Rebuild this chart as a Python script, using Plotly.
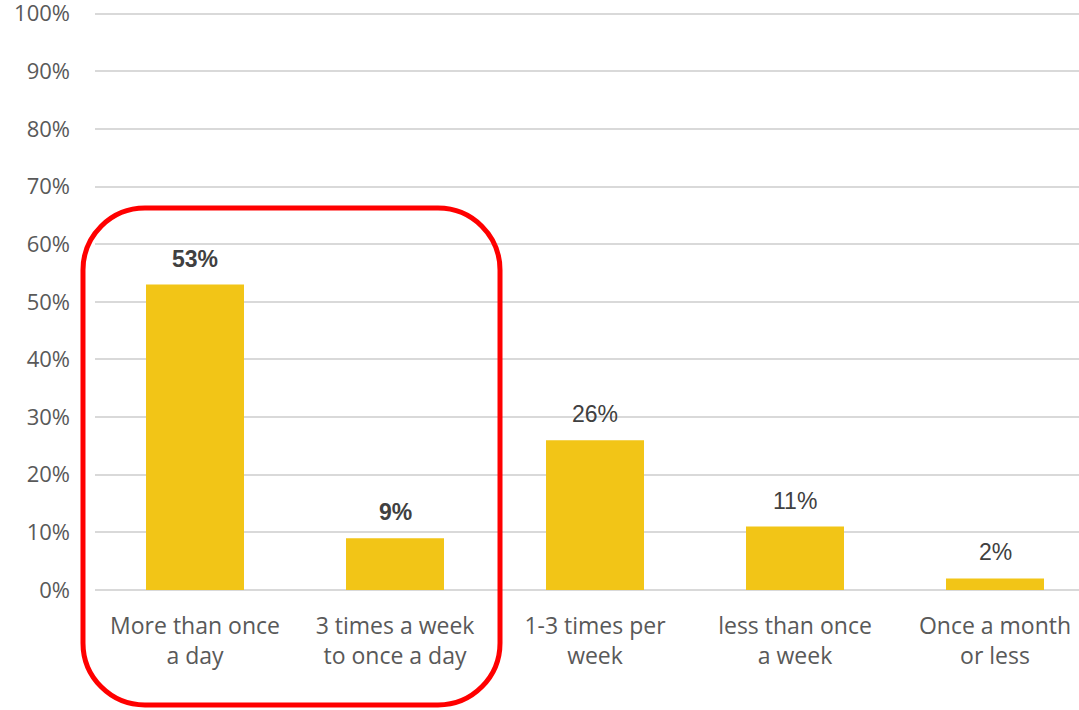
import plotly.graph_objects as go

# Survey responses: how often respondents do the activity
categories = [
    "More than once<br>a day",
    "3 times a week<br>to once a day",
    "1-3 times per<br>week",
    "less than once<br>a week",
    "Once a month<br>or less",
]
shares = [53, 9, 26, 11, 2]
highlighted = [True, True, False, False, False]
y_ticks = list(range(0, 101, 10))

BAR_COLOR = "#F2C517"
GRID_COLOR = "#D9D9D9"
AXIS_TEXT = "#595959"
LABEL_TEXT = "#404040"

W, H = 1079, 710
M_L, M_R, M_T, M_B = 95, 0, 12, 120

fig = go.Figure(
    go.Bar(
        x=list(range(len(categories))),
        y=shares,
        marker=dict(color=BAR_COLOR, line=dict(width=0)),
        width=0.49,
        hoverinfo="skip",
    )
)

# value labels above the bars (bold for the highlighted group)
for i, (v, hl) in enumerate(zip(shares, highlighted)):
    fig.add_annotation(
        x=i, y=v, xref="x", yref="y",
        text=f"<b>{v}%</b>" if hl else f"{v}%",
        showarrow=False, yanchor="bottom", yshift=11,
        font=dict(family="Liberation Sans, Arial", size=23, color=LABEL_TEXT),
    )

# rounded red frame around the first two categories
plot_w = W - M_L - M_R
plot_h = H - M_T - M_B
y_top = 100.3


def px_to_paper(px, py):
    return (px - M_L) / plot_w, (H - M_B - py) / plot_h


def rounded_rect(x0, y0, x1, y1, r):
    k = 0.5523 * r

    def P(px, py):
        a, b = px_to_paper(px, py)
        return f"{a:.5f},{b:.5f}"

    return (
        f"M {P(x0 + r, y0)} L {P(x1 - r, y0)} "
        f"C {P(x1 - r + k, y0)} {P(x1, y0 + r - k)} {P(x1, y0 + r)} "
        f"L {P(x1, y1 - r)} "
        f"C {P(x1, y1 - r + k)} {P(x1 - r + k, y1)} {P(x1 - r, y1)} "
        f"L {P(x0 + r, y1)} "
        f"C {P(x0 + r - k, y1)} {P(x0, y1 - r + k)} {P(x0, y1 - r)} "
        f"L {P(x0, y0 + r)} "
        f"C {P(x0, y0 + r - k)} {P(x0 + r - k, y0)} {P(x0 + r, y0)} Z"
    )


fig.add_shape(
    type="path",
    xref="paper", yref="paper",
    path=rounded_rect(83, 208, 500, 705, 62),
    line=dict(color="#FF0000", width=5),
    fillcolor="rgba(0,0,0,0)",
    layer="above",
)

fig.update_layout(
    width=W, height=H,
    margin=dict(l=M_L, r=M_R, t=M_T, b=M_B, autoexpand=False),
    paper_bgcolor="white",
    plot_bgcolor="white",
    showlegend=False,
    xaxis=dict(
        tickmode="array",
        tickvals=list(range(len(categories))),
        ticktext=categories,
        range=[-0.5, -0.5 + plot_w / 200],
        showgrid=False,
        showline=False,
        zeroline=False,
        ticks="",
        automargin=False,
        ticklabelstandoff=20,
        ticklabeloverflow="allow",
        tickfont=dict(family="Open Sans", size=23, color=AXIS_TEXT),
    ),
    yaxis=dict(
        range=[0, y_top],
        tickmode="array",
        tickvals=y_ticks,
        ticktext=[f"{t}%" for t in y_ticks],
        showgrid=True,
        gridcolor=GRID_COLOR,
        gridwidth=1.5,
        zeroline=True,
        zerolinecolor=GRID_COLOR,
        zerolinewidth=1.5,
        showline=False,
        ticks="",
        automargin=False,
        ticklabelstandoff=24,
        ticklabeloverflow="allow",
        tickfont=dict(family="Open Sans", size=22, color=AXIS_TEXT),
    ),
)

fig.write_html("out.html")
